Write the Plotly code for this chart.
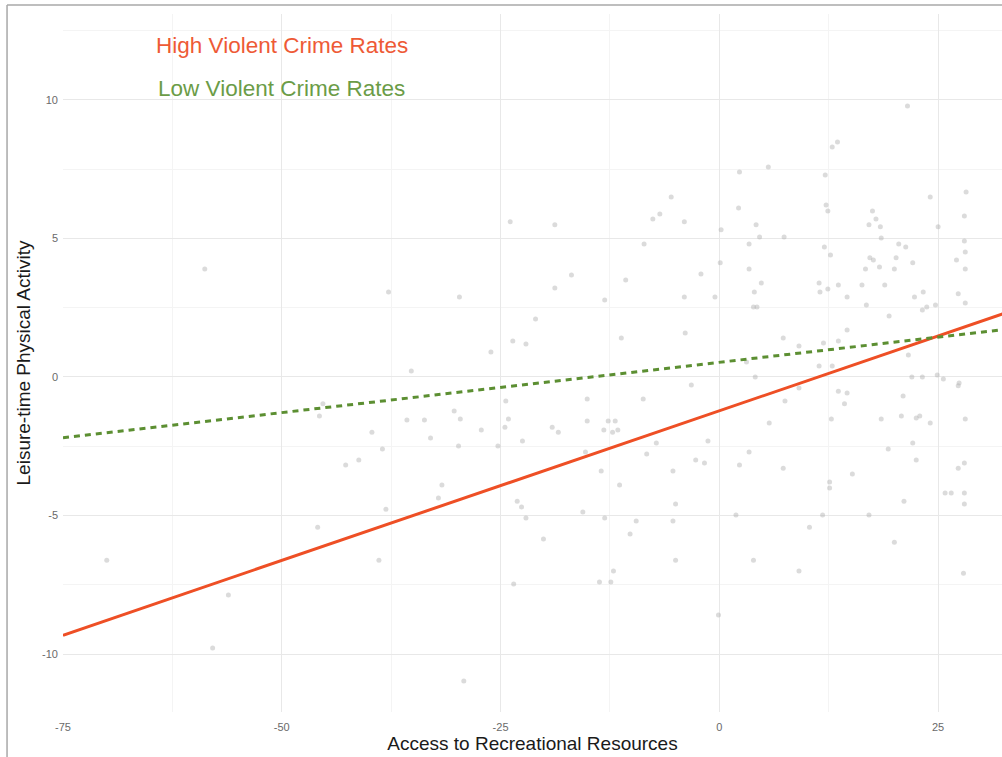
import numpy as np
import plotly.graph_objects as go

# Observed neighbourhoods: access to recreational resources vs. leisure-time physical activity
access = [
    -70.0, -58.8, -56.1, -57.9, -45.9, -38.9, -38.1, -29.2, -37.8, -29.7,
    -26.1, -35.2, -45.3, -45.7, -39.7, -35.7, -33.7, -30.3, -29.6, -27.2,
    -33.0, -38.5, -29.8, -25.3, -41.2, -42.7, -31.7, -32.1,
    21.5, 13.5, 12.9, 5.6, 2.3, 12.1, -5.5, 24.1, 28.2,
    2.2, -23.9, -18.8, -7.6, -6.8, -4.0, 0.2, -8.6, 0.1, -16.9,
    -2.1, -10.7, -18.8, -13.1, -4.0, -0.5, -21.0, -23.6, -22.1, -11.2, -3.9,
    12.2, 12.4, 17.5, 17.9, 17.1, 18.4, 25.0, 28.0, 4.2, 4.6,
    7.4, 18.5, 28.0, 3.4, 20.5, 21.3, 12.0, 28.1, 12.7, 17.2,
    17.6, 20.2, 22.1, 27.1, 3.4, 16.7, 18.3, 20.0, 28.1, 4.8,
    11.4, 4.0, 11.5, 12.4, 13.6, 16.3, 18.9, 14.6, 22.3, 23.3,
    27.3, 3.9, 4.3, 16.8, 23.2, 23.7, 24.7, 28.1, 19.4, 14.6,
    7.3, 9.1, 11.9, 13.6,
    -3.2, -24.4, -15.1, -8.7, -24.1, -15.1, -12.7, -11.9, -24.5, -19.1,
    -18.4, -13.2, -12.2, -11.6, -22.5, -1.3, -7.2, -15.3, -8.3, -2.7,
    -1.7, -13.5, -5.3, 2.3, -11.4, -23.1, -22.6, -22.1, -15.6, -13.1,
    -9.5, -5.0, -5.3, 1.9, -10.2, -20.1,
    3.1, 11.4, 12.9, 21.6, 4.1, 22.0, 23.2, 24.9, 25.6, 27.4,
    27.3, 9.1, 13.6, 14.6, 21.0, 7.5, 14.3, 12.8, 18.5, 20.8,
    22.5, 22.9, 24.1, 28.1, 5.7, 22.1, 19.3, 3.4, 7.3, 22.5,
    28.0, 27.3, 15.2, 12.6, 12.6, 25.8, 26.5, 28.0, 21.1, 28.0,
    11.8, 17.1, 10.3, 20.0,
    -5.0, 3.9, 9.1, -12.1, 27.9, -23.5, -13.7, -12.4, -0.1,
]
activity = [
    -6.61, 3.90, -7.87, -9.78, -5.42, -6.61, -4.77, -10.97, 3.07, 2.89,
    0.90, 0.22, -0.97, -1.41, -1.99, -1.55, -1.55, -1.23, -1.52, -1.91,
    -2.20, -2.60, -2.49, -2.49, -3.00, -3.18, -3.90, -4.37,
    9.78, 8.48, 8.30, 7.58, 7.40, 7.29, 6.50, 6.50, 6.68,
    6.10, 5.60, 5.49, 5.70, 5.88, 5.60, 5.31, 4.80, 4.12, 3.68,
    3.72, 3.50, 3.21, 2.78, 2.89, 2.89, 2.09, 1.30, 1.19, 1.41, 1.59,
    6.21, 5.99, 5.99, 5.70, 5.49, 5.42, 5.42, 5.81, 5.49, 5.05,
    5.05, 5.02, 4.91, 4.80, 4.80, 4.69, 4.69, 4.51, 4.40, 4.30,
    4.22, 4.30, 4.12, 4.22, 3.90, 3.90, 3.97, 3.90, 3.90, 3.39,
    3.39, 3.07, 3.07, 3.18, 3.32, 3.32, 3.32, 2.89, 2.89, 3.07,
    3.00, 2.53, 2.53, 2.60, 2.42, 2.53, 2.60, 2.67, 2.20, 1.70,
    1.41, 1.12, 1.23, 1.30,
    -0.29, -0.87, -0.79, -0.79, -1.52, -1.59, -1.59, -1.59, -1.81, -1.81,
    -1.99, -1.91, -1.99, -1.91, -2.31, -2.31, -2.38, -2.71, -2.78, -3.00,
    -3.10, -3.39, -3.39, -3.18, -3.90, -4.48, -4.69, -5.09, -4.87, -5.09,
    -5.20, -4.58, -5.20, -4.98, -5.67, -5.85,
    0.54, 0.40, 0.40, 0.79, 0.00, 0.00, 0.00, 0.07, -0.07, -0.22,
    -0.32, -0.40, -0.51, -0.58, -0.69, -0.87, -0.97, -1.52, -1.52, -1.41,
    -1.48, -1.41, -1.66, -1.52, -1.66, -2.38, -2.60, -2.71, -3.29, -3.00,
    -3.10, -3.29, -3.50, -3.79, -4.01, -4.19, -4.19, -4.19, -4.48, -4.58,
    -4.98, -4.98, -5.42, -5.96,
    -6.61, -6.61, -7.00, -7.00, -7.08, -7.47, -7.40, -7.40, -8.59,
]

# Fitted simple slopes for the two crime-rate groups
groups = ["High Violent Crime Rates", "Low Violent Crime Rates"]
intercepts = [-1.22, 0.53]
slopes = [0.108, 0.0363]
line_colors = ["#EE4F25", "#5C8F32"]
label_colors = ["#EE5A36", "#6B9C47"]
line_dashes = ["solid", "6px,5px"]
label_y = [11.95, 10.4]

x_range = [-75, 32.3]
y_range = [-12.09, 13.1]

fig = go.Figure()

fig.add_trace(go.Scatter(
    x=access, y=activity, mode="markers",
    marker=dict(size=5, color="rgba(175,175,175,0.45)", line=dict(width=0)),
    showlegend=False, hoverinfo="skip",
))

line_x = np.array([-75.0, 35.0])
for name, b0, b1, col, dash in zip(groups, intercepts, slopes, line_colors, line_dashes):
    fig.add_trace(go.Scatter(
        x=line_x, y=b0 + b1 * line_x, mode="lines", name=name,
        line=dict(color=col, width=3, dash=dash),
        showlegend=False,
    ))

for name, col, ly in zip(groups, label_colors, label_y):
    fig.add_annotation(
        x=-50, y=ly, text=name, showarrow=False,
        font=dict(family="Liberation Sans, Arial", size=22.5, color=col),
        xanchor="center", yanchor="middle",
    )

grid_major = "#e8e8e8"
grid_minor = "#f4f4f4"
tick_font = dict(family="Liberation Sans, Arial", size=11, color="#6a6a6a")
title_font = dict(family="Liberation Sans, Arial", size=19, color="#1a1a1a")

fig.update_xaxes(
    range=x_range, tickvals=[-75, -50, -25, 0, 25],
    ticktext=["-75", "-50", "-25", "0", "25"],
    showgrid=True, gridcolor=grid_major, gridwidth=1,
    minor=dict(dtick=12.5, tick0=-75, showgrid=True, gridcolor=grid_minor, gridwidth=1),
    zeroline=False, showline=False, ticks="", ticklabelstandoff=7,
    tickfont=tick_font,
    title=dict(text="Access to Recreational Resources", standoff=4, font=title_font),
)
fig.update_yaxes(
    range=y_range, tickvals=[-10, -5, 0, 5, 10],
    ticktext=["-10", "-5", "0", "5", "10"],
    showgrid=True, gridcolor=grid_major, gridwidth=1,
    minor=dict(dtick=2.5, tick0=0, showgrid=True, gridcolor=grid_minor, gridwidth=1),
    zeroline=False, showline=False, ticks="", ticklabelstandoff=4,
    tickfont=tick_font,
    title=dict(text="Leisure-time Physical Activity", standoff=6, font=title_font),
)

# Thin grey frame along the top and left of the page
fig.add_shape(type="line", xref="paper", yref="paper",
              x0=-0.0596, x1=1.0, y0=1.0129, y1=1.0129,
              line=dict(color="#a8a8a8", width=1.5))
fig.add_shape(type="line", xref="paper", yref="paper",
              x0=-0.0596, x1=-0.0596, y0=-0.07, y1=1.0129,
              line=dict(color="#a8a8a8", width=1.5))

fig.update_layout(
    width=1002, height=757,
    margin=dict(l=63, r=0, t=14, b=45, autoexpand=False),
    paper_bgcolor="white", plot_bgcolor="white",
    font=dict(family="Liberation Sans, Arial"),
)

fig.write_html("out.html")
